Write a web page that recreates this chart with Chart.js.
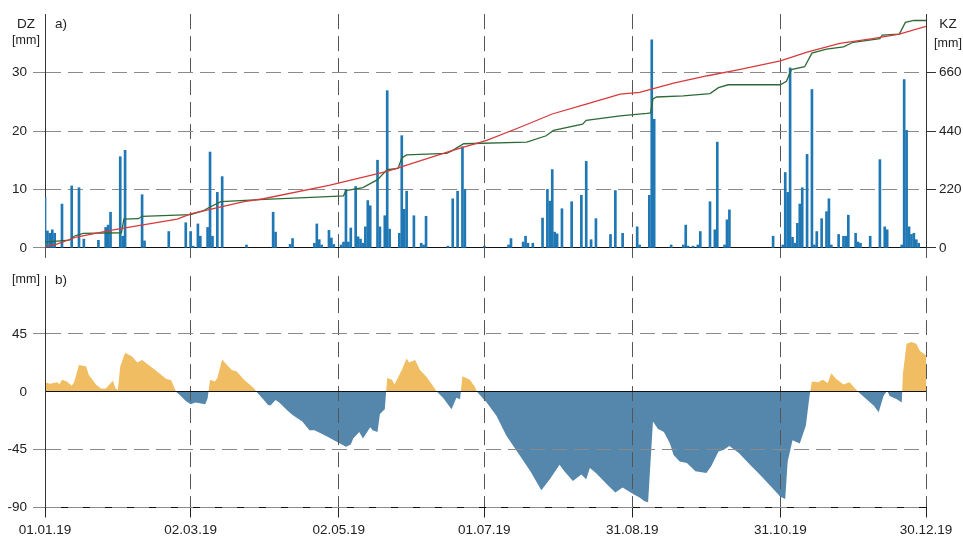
<!DOCTYPE html>
<html>
<head>
<meta charset="utf-8">
<script src="https://cdn.jsdelivr.net/npm/chart.js@4.4.1/dist/chart.umd.min.js"></script>
<style>
  html, body { margin: 0; padding: 0; background: #fff; }
  #wrap { position: relative; width: 963px; height: 541px; }
  #top { position: absolute; left: 0; top: 0; }
  #bottom { position: absolute; left: 0; top: 262px; }
</style>
</head>
<body>
<div id="wrap">
  <canvas id="top" width="963" height="262"></canvas>
  <canvas id="bottom" width="963" height="279"></canvas>
</div>
<script>
// x axis: day of year 2019 (0 = 01.01.19)
const tickDays = [0, 60, 121, 181, 242, 303, 363];
const tickLabels = ['01.01.19', '02.03.19', '02.05.19', '01.07.19', '31.08.19', '31.10.19', '30.12.19'];

// a) daily precipitation DZ [mm]
const rainDays = [0, 1, 2, 3, 4, 7, 11, 14, 16, 22, 25, 26, 27, 31, 32, 33, 40, 41, 51, 58, 60, 61, 63, 64, 67, 68, 69, 71, 73, 83,
  94, 95, 101, 102, 111, 112, 113, 114, 117, 118, 119, 122, 123, 124, 125, 126, 128, 129, 130, 131, 132, 133, 134, 137, 138,
  140, 141, 142, 146, 147, 148, 149, 152, 155, 156, 157, 166, 168, 170, 172, 173, 181, 191, 192, 197, 198, 199, 201, 205, 207,
  208, 209, 210, 211, 213, 217, 221, 223, 225, 227, 233, 235, 238, 244, 245, 249, 250, 251, 258, 263, 264, 265, 267, 269, 270,
  274, 276, 277, 280, 281, 282, 300, 304, 305, 306, 307, 308, 309, 310, 311, 312, 314, 316, 317, 318, 320, 322, 323, 324, 327,
  329, 330, 331, 334, 335, 336, 340, 344, 346, 347, 353, 354, 355, 356, 357, 358, 359, 360];
const rainMm = [8.7, 2.9, 2.5, 3.1, 2.5, 7.5, 10.6, 10.3, 1.5, 1.3, 3.5, 3.9, 6.1, 15.6, 2.0, 16.7, 9.1, 1.2, 2.8, 4.3, 2.8, 0.3, 4.1, 2.0, 3.5, 16.4, 2.0, 9.5, 12.2, 0.5,
  6.1, 2.7, 0.6, 1.6, 0.8, 4.1, 1.4, 0.5, 3.0, 1.7, 0.6, 0.5, 1.0, 10.0, 1.0, 3.4, 10.5, 1.9, 1.5, 0.8, 3.6, 8.1, 7.2, 15.0, 3.6,
  5.5, 26.9, 3.2, 2.5, 19.2, 6.6, 9.7, 5.5, 0.8, 0.5, 5.4, 0.3, 8.4, 9.7, 17.3, 10.0, 0.3, 0.5, 1.6, 1.0, 2.0, 0.8, 0.8, 5.1, 10.0,
  8.0, 13.4, 2.7, 2.4, 6.7, 7.9, 9.0, 14.8, 1.4, 5.0, 2.3, 9.8, 2.5, 3.6, 0.5, 9.0, 35.6, 22.0, 0.5, 0.5, 3.9, 0.3, 0.3, 0.5, 2.8,
  7.9, 3.1, 18.1, 0.5, 4.8, 6.5, 2.0, 0.5, 12.9, 9.5, 30.8, 1.8, 0.8, 4.2, 7.5, 10.3, 16.0, 27.1, 0.5, 2.8, 5.0, 6.2, 8.4, 0.5, 2.3,
  2.0, 2.0, 5.6, 2.5, 1.0, 0.8, 2.0, 15.1, 3.6, 3.1, 0.5, 28.8, 20.1, 3.6, 2.3, 2.5, 1.4, 0.8];

// a) cumulative KZ [mm], red and green curves
const redDays = [0, 4, 13, 27, 41, 54.5, 60, 68, 82, 90, 117, 141, 168, 182, 196, 209, 223, 237, 245, 259, 273, 286, 303, 314, 327.5, 341, 352, 363];
const redKz = [5, 11, 41, 66, 88, 108, 128, 145, 174, 185, 235, 288, 367, 405, 455, 504, 541, 579, 585, 620, 648, 671, 704, 737, 770, 788, 805, 834];
const greenDays = [0, 10, 12, 15.7, 31.5, 32.5, 38.5, 40, 60, 65, 68, 72.5, 90.5, 112, 123, 124, 131, 137, 141, 145.5, 147, 149, 165.5, 168, 172.5,
  198.5, 206.5, 209.5, 221.5, 223, 237, 248, 249.5, 250.5, 252, 263, 274, 277.5, 281.5, 303, 305.5, 307.5, 313, 316, 322, 329, 333, 344, 345, 352, 354.5, 358, 363];
const greenKz = [22, 29, 44, 55, 57, 108, 110, 119, 125, 139, 154, 174, 183, 191, 196, 216, 227, 257, 295, 299, 339, 350, 356, 367, 392,
  398, 422, 442, 466, 480, 497, 506, 508, 561, 568, 572, 581, 603, 614, 614, 627, 671, 682, 733, 748, 757, 774, 788, 801, 805, 849, 856, 856];

// b) balance [mm]
const balDays = [0, 2, 5, 6, 7, 9, 11, 12, 14, 17, 18, 21, 23, 25, 28, 29, 30, 31, 33, 36, 38, 40, 45, 50, 52, 54, 56, 58, 60, 62, 66, 67, 68, 70, 71,
  73, 75, 77, 79, 82, 86, 87.5, 90, 92, 93, 95, 96.5, 100, 102, 106, 109, 111, 114, 117, 121.5, 124, 126, 127, 129.5, 131, 134, 135, 137, 138, 140,
  141, 143, 144, 147, 149, 150, 152.5, 154.5, 157, 159, 161.5, 164, 167.5, 169.5, 171, 172, 175, 177, 178, 182, 186, 190, 194.5, 200, 204.5, 208,
  212, 214, 217.5, 221, 223, 224.5, 227, 231.5, 235, 238, 242.5, 245, 247, 248.5, 250.5, 252.5, 255, 257.5, 259, 261.5, 264.5, 268, 272.5, 274.5,
  277.5, 279.5, 282, 286, 290.5, 294.5, 299.5, 303, 305, 306, 308, 311, 313.5, 315, 316, 318.5, 320.5, 322.5, 324, 326, 329, 331.5, 335, 338.5,
  341.5, 343.5, 345.5, 347, 348, 351, 353, 353.5, 355, 357, 359, 360.5, 363];
const balMm = [7.4, 6.3, 7.4, 5.8, 9.4, 8.1, 4.8, 7.4, 20.8, 19.6, 13.2, 5.6, 2.5, 2.5, 8.6, 3.0, 1.3, 19.6, 30.3, 27.2, 22.7, 24.7, 17.5, 9.9, 8.9, 0, -3.3, -7.1, -9.7, -8.4, -9.7, -5.3, 9.4, 8.1, 10.7,
  25.2, 20.8, 17.0, 15.8, 9.4, 3.0, -0.8, -5.9, -10.4, -10.4, -6.4, -8.4, -14.7, -18.0, -23.1, -30.0, -30.0, -32.6, -35.5, -40.2, -42.7, -41.0, -36.4, -31.3, -36.4, -27.5, -30.0, -31.3, -17.3, -13.5,
  10.7, 9.4, 5.6, 17.0, 25.9, 22.7, 24.7, 17.0, 12.0, 6.9, 0, -4.6, -13.5, -4.6, -5.8, 12.0, 9.4, 4.3, 0, -8.4, -18.6, -33.8, -46.5, -61.8, -76.5, -68.1,
  -56.7, -61.8, -69.4, -64.3, -68.1, -59.3, -63.1, -72.0, -78.3, -74.5, -79.6, -82.2, -85.2, -86.0, -23.1, -28.7, -31.3, -40.2, -49.1, -54.2, -55.4, -61.8, -63.1, -58.0,
  -46.5, -45.2, -42.2, -47.8, -56.7, -64.3, -74.5, -81.6, -83.4, -54.2, -37.6, -40.2, -26.2, -3.3, 8.1, 7.4, 9.4, 6.9, 14.5, 9.9, 5.6, 7.4, 0, -5.8,
  -10.9, -16.0, -3.3, 1.0, -3.3, -5.8, -8.4, 14.5, 37.4, 38.7, 37.4, 31.8, 28.5];

const pts = (xs, ys) => xs.map((x, i) => ({ x: x, y: ys[i] }));
const setTicks = (vals) => (scale) => { scale.ticks = vals.map(v => ({ value: v })); };

const FONT = '"Liberation Sans", Arial, sans-serif';
Chart.defaults.font.family = FONT;
Chart.defaults.font.size = 13.5;
Chart.defaults.color = '#222';

const panelText = {
  id: 'panelText',
  afterDraw(chart, args, opts) {
    const ctx = chart.ctx;
    ctx.save();
    ctx.fillStyle = '#222';
    ctx.textBaseline = 'middle';
    opts.items.forEach(t => {
      ctx.font = (t.size || 13.5) + 'px ' + FONT;
      ctx.textAlign = t.align || 'center';
      ctx.fillText(t.text, t.x, t.y);
    });
    ctx.restore();
  }
};

const DASH = [15, 7];

new Chart(document.getElementById('top'), {
  type: 'bar',
  data: {
    datasets: [
      { type: 'line', data: pts(redDays, redKz), yAxisID: 'y2', borderColor: '#d83a3c', borderWidth: 1.3,
        pointRadius: 0, tension: 0, order: 1 },
      { type: 'line', data: pts(greenDays, greenKz), yAxisID: 'y2', borderColor: '#2d6a37', borderWidth: 1.3,
        pointRadius: 0, tension: 0, order: 1 },
      { type: 'bar', data: pts(rainDays, rainMm), yAxisID: 'y', backgroundColor: '#1f77b4',
        barThickness: 2, order: 2 }
    ]
  },
  options: {
    responsive: false,
    animation: false,
    layout: { padding: { top: 13.5 } },
    plugins: {
      legend: { display: false },
      tooltip: { enabled: false },
      panelText: { items: [
        { text: 'DZ', x: 26, y: 24 },
        { text: '[mm]', x: 26, y: 41, size: 12.5 },
        { text: 'a)', x: 55, y: 24, align: 'left' },
        { text: 'KZ', x: 948, y: 24 },
        { text: '[mm]', x: 948, y: 44, size: 12.5 }
      ] }
    },
    scales: {
      x: {
        type: 'linear', min: 0, max: 363, offset: false,
        afterBuildTicks: setTicks(tickDays),
        afterFit: (s) => { s.height = 11; },
        ticks: { display: false },
        grid: { offset: false, color: '#555', tickColor: '#555', tickLength: 10 },
        border: { color: '#111', dash: DASH }
      },
      y: {
        position: 'left', min: 0, max: 40,
        afterBuildTicks: setTicks([0, 10, 20, 30]),
        afterFit: (s) => { s.width = 45; },
        ticks: { padding: 6 },
        grid: { color: '#8a8a8a', tickColor: '#8a8a8a', tickLength: 12 },
        border: { color: '#333', dash: DASH }
      },
      y2: {
        position: 'right', min: 0, max: 880,
        afterBuildTicks: setTicks([0, 220, 440, 660]),
        afterFit: (s) => { s.width = 37; },
        ticks: { padding: 3 },
        grid: { drawOnChartArea: false, tickColor: '#333', tickLength: 10 },
        border: { color: '#333' }
      }
    }
  },
  plugins: [panelText]
});

new Chart(document.getElementById('bottom'), {
  type: 'line',
  data: {
    datasets: [
      { data: pts(balDays, balMm), borderWidth: 0, borderColor: 'rgba(0,0,0,0)', pointRadius: 0, tension: 0,
        fill: { target: 'origin', above: '#f0bd63', below: '#5586ab' } }
    ]
  },
  options: {
    responsive: false,
    animation: false,
    layout: { padding: { top: 9.5, right: 37 } },
    plugins: {
      legend: { display: false },
      tooltip: { enabled: false },
      panelText: { items: [
        { text: '[mm]', x: 26, y: 18, size: 12.5 },
        { text: 'b)', x: 55, y: 18, align: 'left' }
      ] }
    },
    scales: {
      x: {
        type: 'linear', min: 0, max: 363,
        afterBuildTicks: setTicks(tickDays),
        afterFit: (s) => { s.height = 33.5; },
        ticks: { autoSkip: false, maxRotation: 0, padding: 5, callback: (v, i) => tickLabels[i] },
        grid: { color: '#555', tickColor: '#222', tickLength: 10, z: 1 },
        border: { color: '#111', dash: DASH, z: 1 }
      },
      y: {
        min: -90, max: 90,
        afterBuildTicks: setTicks([-90, -45, 0, 45]),
        afterFit: (s) => { s.width = 45; },
        ticks: { padding: 6 },
        grid: {
          z: 1, tickLength: 12,
          color: (c) => (c.tick && c.tick.value === 0) ? '#111' : '#8a8a8a',
          tickColor: (c) => (c.tick && c.tick.value === 0) ? 'rgba(0,0,0,0)' : '#8a8a8a'
        },
        border: { color: '#333', z: 1, dash: (c) => (c.tick && c.tick.value === 0) ? [] : DASH }
      }
    }
  },
  plugins: [panelText]
});
</script>
</body>
</html>
